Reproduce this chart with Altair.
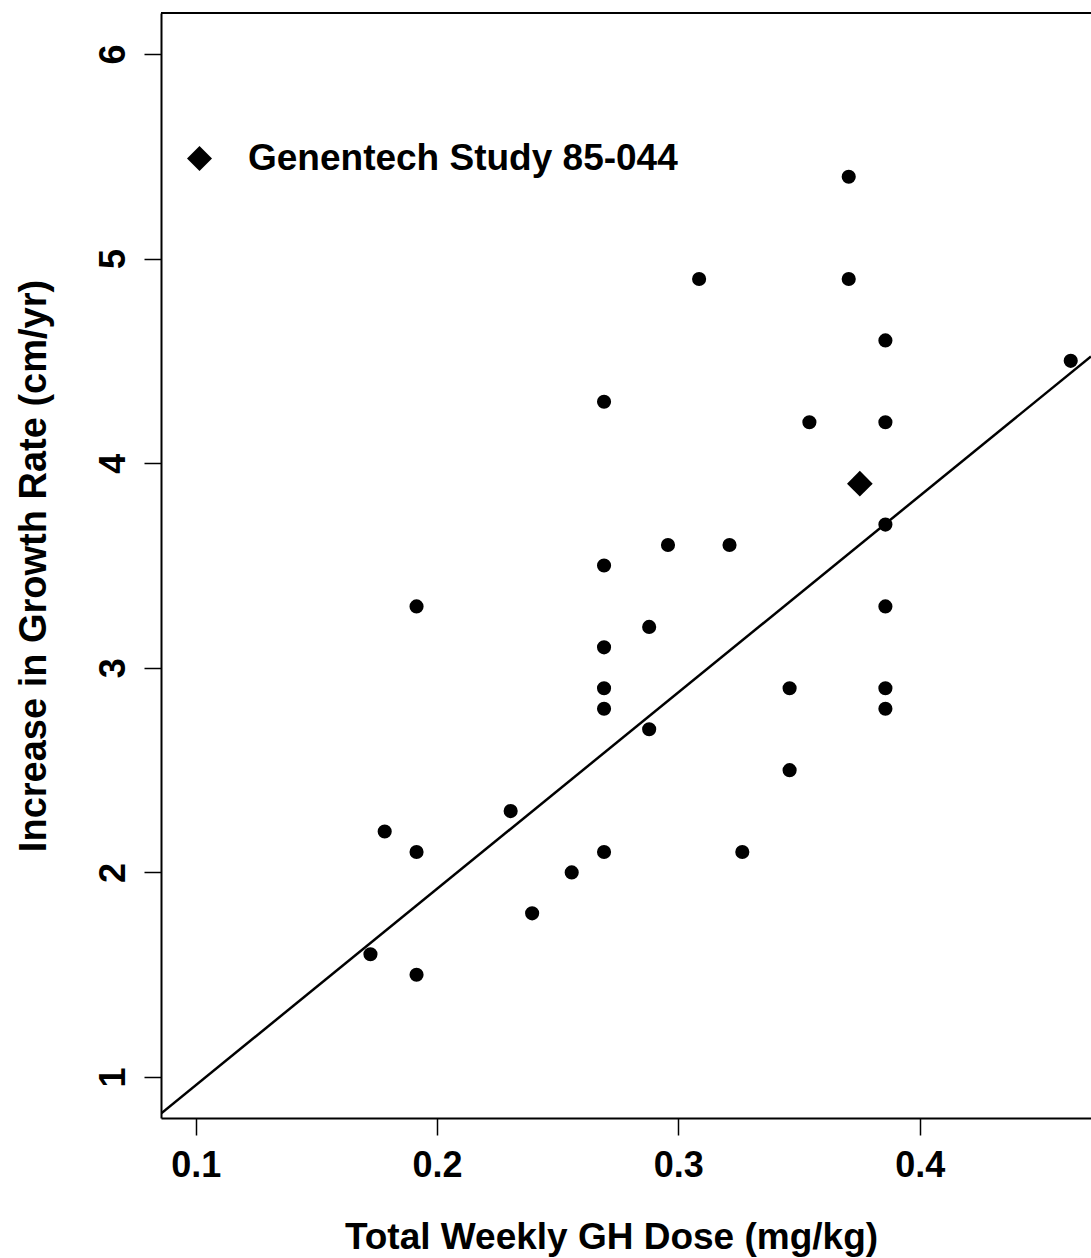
import altair as alt
import pandas as pd

# Individual patients: weekly GH dose vs. increase in growth rate
dose = [0.1724, 0.1783, 0.1915, 0.1915, 0.1915, 0.2305, 0.2394, 0.2558,
        0.2692, 0.2692, 0.2692, 0.2692, 0.2692, 0.2692,
        0.2879, 0.2879, 0.2957, 0.3086, 0.3212, 0.3265,
        0.3461, 0.3461, 0.3543, 0.3706, 0.3706,
        0.3858, 0.3858, 0.3858, 0.3858, 0.3858, 0.3858, 0.4626]
growth = [1.6, 2.2, 1.5, 2.1, 3.3, 2.3, 1.8, 2.0,
          2.1, 2.8, 2.9, 3.1, 3.5, 4.3,
          3.2, 2.7, 3.6, 4.9, 3.6, 2.1,
          2.5, 2.9, 4.2, 5.4, 4.9,
          4.6, 4.2, 3.7, 3.3, 2.9, 2.8, 4.5]

# Study mean
study_label = ["Genentech Study 85-044"]
study_dose = [0.3752]
study_growth = [3.9]

# Fitted dose-response line
line_slope = 9.6
line_intercept = 0.0

x_ticks = [0.1, 0.2, 0.3, 0.4]
y_ticks = [1, 2, 3, 4, 5, 6]

X_DOMAIN = [0.0856, 0.4710]
Y_DOMAIN = [0.8, 6.2]

FONT = "Liberation Sans"
W, H = 930, 1105

points = pd.DataFrame({"dose": dose, "growth": growth})
study = pd.DataFrame({"dose": study_dose, "growth": study_growth, "label": study_label})
fit = pd.DataFrame({"dose": X_DOMAIN})
fit["growth"] = line_intercept + line_slope * fit["dose"]

xs = alt.Scale(domain=X_DOMAIN, nice=False, zero=False)
ys = alt.Scale(domain=Y_DOMAIN, nice=False, zero=False)

x_axis = alt.Axis(
    values=x_ticks, format=".1f", title="Total Weekly GH Dose (mg/kg)",
    grid=False, domainColor="black", domainWidth=2, tickColor="black",
    tickSize=17, tickWidth=1.5, labelFontSize=36, labelFont=FONT,
    labelFontWeight="bold", labelColor="black", labelPadding=13,
    titleFontSize=37, titleFont=FONT, titleFontWeight="bold",
    titleColor="black", titlePadding=36, titleX=450, titleAlign="center",
)
y_axis = alt.Axis(
    values=y_ticks, format="d", title="Increase in Growth Rate (cm/yr)",
    grid=False, domainColor="black", domainWidth=2, tickColor="black",
    tickSize=17, tickWidth=1.5, labelFontSize=36, labelFont=FONT,
    labelFontWeight="bold", labelColor="black", labelAngle=-90,
    labelAlign="center", labelBaseline="alphabetic", labelPadding=20,
    titleFontSize=38, titleFont=FONT, titleFontWeight="bold",
    titleColor="black", titlePadding=42,
)

dots = alt.Chart(points).mark_point(
    shape="circle", filled=True, color="black", opacity=1, size=200
).encode(
    x=alt.X("dose:Q", scale=xs, axis=x_axis),
    y=alt.Y("growth:Q", scale=ys, axis=y_axis),
)

fit_line = alt.Chart(fit).mark_line(color="black", strokeWidth=2.5, clip=True).encode(
    x=alt.X("dose:Q", scale=xs),
    y=alt.Y("growth:Q", scale=ys),
)

study_pt = alt.Chart(study).mark_point(
    filled=True, color="black", opacity=1, size=660
).encode(
    x=alt.X("dose:Q", scale=xs),
    y=alt.Y("growth:Q", scale=ys),
    shape=alt.Shape(
        "label:N",
        scale=alt.Scale(range=["diamond"]),
        legend=alt.Legend(
            title=None, orient="none", legendX=20, legendY=127, padding=0,
            symbolSize=625, symbolFillColor="black", symbolStrokeColor="black",
            symbolStrokeWidth=0, labelFont=FONT, labelFontSize=37,
            labelFontWeight="bold", labelColor="black", labelOffset=30,
            labelLimit=0,
        ),
    ),
)

top_border = alt.Chart(points).mark_rule(color="black", strokeWidth=2).encode(
    x=alt.value(0), x2=alt.value(W), y=alt.value(0)
)

chart = alt.layer(fit_line, dots, study_pt, top_border).properties(
    width=W, height=H,
    autosize=alt.AutoSizeParams(type="none"),
    padding={"left": 161, "top": 13, "right": 0, "bottom": 140},
    background="white",
).configure_view(stroke=None)

chart.save("out.html", embed_options={"renderer": "svg", "actions": False})
